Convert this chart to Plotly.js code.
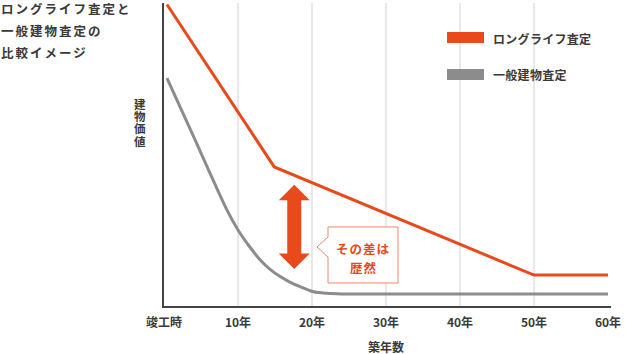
<!DOCTYPE html>
<html><head><meta charset="utf-8">
<script src="https://cdn.plot.ly/plotly-3.0.1.min.js"></script>
<style>html,body{margin:0;padding:0;background:#fff;}#chart{width:626px;height:354px;}</style>
</head><body><div id="chart"></div>
<script>
// ---- data ----
const seriesNames = ['ロングライフ査定', '一般建物査定'];
const longLifeYears = [0.4, 14.9, 50, 60];
const longLifeValues = [99.5, 45.9, 10.2, 10.2];
const generalYears = [0.4, 4, 8.5, 10, 11.5, 13, 14.3, 15.7, 17, 18.4, 20.2, 22, 24, 60];
const generalValues = [75.2, 55.9, 31.7, 25.1, 19.8, 15.2, 12.2, 9.7, 7.9, 6.4, 4.7, 4.2, 4.0, 4.0];
const tickYears = [0, 10, 20, 30, 40, 50, 60];
const tickLabels = ['竣工時', '10年', '20年', '30年', '40年', '50年', '60年'];
const gridYears = [10, 20, 30, 40, 50];
const titleLines = ['ロングライフ査定と', '一般建物査定の', '比較イメージ'];
const yTitleChars = ['建', '物', '価', '値'];
const xTitle = '築年数';
const calloutLines = ['その差は', '歴然'];
const arrowYear = 17.6, arrowTop = 40, arrowBottom = 12.2;

// ---- style ----
const ORANGE = '#e84a1b', GRAY = '#8c8c8c', TEXT = '#3a3a3a';
const FONT = '"Noto Sans CJK JP", "Noto Sans", sans-serif';
const W = 626, H = 354, M = {l: 164, r: 15, t: 3, b: 48};
const PW = W - M.l - M.r, PH = H - M.t - M.b;
const XR = [0, 60.4], YR = [0, 100];
const fx = px => (px - M.l) / PW;            // pixel -> paper x
const fy = py => (H - M.b - py) / PH;        // pixel -> paper y
const dx = yr => M.l + (yr - XR[0]) / (XR[1] - XR[0]) * PW; // data -> pixel
const dy = v => H - M.b - (v - YR[0]) / (YR[1] - YR[0]) * PH;
const sp = (t, s) => `<span style="letter-spacing:${s}px">${t}</span>`;

const traces = [
  {x: generalYears, y: generalValues, name: seriesNames[1], mode: 'lines',
   line: {color: GRAY, width: 3, shape: 'spline', smoothing: 0.8}, hoverinfo: 'skip'},
  {x: longLifeYears, y: longLifeValues, name: seriesNames[0], mode: 'lines',
   line: {color: ORANGE, width: 3}, hoverinfo: 'skip'}
];

const shapes = [];
gridYears.forEach(g => shapes.push({type: 'line', xref: 'x', yref: 'paper', x0: g, x1: g, y0: 0, y1: 1,
  line: {color: '#d2d2d2', width: 1}, layer: 'below'}));
// legend swatches
[[ORANGE, 37.5], [GRAY, 74.5]].forEach(([c, cy]) => shapes.push({type: 'rect', xref: 'paper', yref: 'paper',
  x0: fx(447), x1: fx(484), y0: fy(cy - 5.5), y1: fy(cy + 5.5), fillcolor: c, line: {width: 0}}));
// double arrow
(function () {
  const cx = dx(arrowYear), t = dy(arrowTop), b = dy(arrowBottom);
  const hw = 15.5, sw = 7, hh = 15.5;
  const pts = [[cx, t], [cx + hw, t + hh], [cx + sw, t + hh], [cx + sw, b - hh], [cx + hw, b - hh], [cx, b],
    [cx - hw, b - hh], [cx - sw, b - hh], [cx - sw, t + hh], [cx - hw, t + hh]];
  const path = 'M' + pts.map(p => fx(p[0]) + ',' + fy(p[1])).join(' L') + ' Z';
  shapes.push({type: 'path', xref: 'paper', yref: 'paper', path: path, fillcolor: ORANGE, line: {width: 0}});
})();
// callout box
(function () {
  const pts = [[328, 227], [398, 227], [398, 283], [328, 283], [328, 257], [317, 247], [328, 237]];
  const path = 'M' + pts.map(p => fx(p[0]) + ',' + fy(p[1])).join(' L') + ' Z';
  shapes.push({type: 'path', xref: 'paper', yref: 'paper', path: path, fillcolor: '#ffffff',
    line: {color: '#f0876a', width: 1}});
})();

const ann = [];
const addText = (t, px, py, opt) => ann.push(Object.assign({text: t, xref: 'paper', yref: 'paper', x: fx(px), y: fy(py),
  xanchor: 'left', yanchor: 'middle', showarrow: false, borderpad: 0,
  font: {family: FONT, size: 12, color: TEXT, weight: 700}}, opt || {}));
titleLines.forEach((t, i) => addText(sp(t, 2), 0, [8.5, 30.5, 52.5][i], {font: {family: FONT, size: 12.5, color: TEXT, weight: 700}}));
// vertical y-axis title: one text, line pitch set by the small base size, glyphs enlarged by span
addText(yTitleChars.map(c => `<span style="font-size:11.5px">${c}</span>`).join('<br>'), 140, 122,
  {xanchor: 'center', font: {family: FONT, size: 9.4, color: TEXT, weight: 700}});
addText(xTitle, 386, 346, {xanchor: 'center'});
addText(sp(seriesNames[0], 0.3), 492, 38.5);
addText(sp(seriesNames[1], 0.3), 492, 74.5);
calloutLines.forEach((t, i) => addText(sp(t, 1), 363, [248, 267][i], {xanchor: 'center',
  font: {family: FONT, size: 12.5, color: ORANGE, weight: 700}}));

const layout = {
  width: W, height: H, margin: M, paper_bgcolor: '#fff', plot_bgcolor: '#fff', showlegend: false,
  xaxis: {range: XR, showgrid: false, zeroline: false, showline: true, linecolor: '#444', linewidth: 2,
    tickvals: tickYears, ticktext: tickLabels, ticks: '', ticklabelstandoff: 5, fixedrange: true,
    tickfont: {family: FONT, size: 12, color: TEXT, weight: 700}},
  yaxis: {range: YR, showgrid: false, zeroline: false, showline: true, linecolor: '#444', linewidth: 2,
    showticklabels: false, ticks: '', fixedrange: true},
  shapes: shapes, annotations: ann
};
Plotly.newPlot('chart', traces, layout, {displayModeBar: false, staticPlot: true});
</script></body></html>
